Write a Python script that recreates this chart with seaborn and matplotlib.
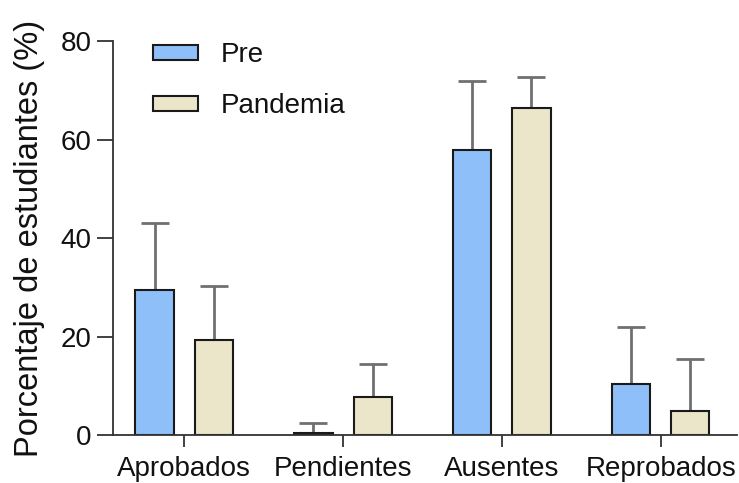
import numpy as np
import pandas as pd
import matplotlib
matplotlib.use('Agg')
import matplotlib.pyplot as plt
import seaborn as sns

# data
categories = ['Aprobados', 'Pendientes', 'Ausentes', 'Reprobados']
periods = ['Pre', 'Pandemia']
pre_mean = [29.4, 0.5, 57.8, 10.3]
pre_sd = [13.6, 2.0, 14.0, 11.7]
pand_mean = [19.4, 7.7, 66.4, 4.9]
pand_sd = [10.9, 6.8, 6.4, 10.6]

colors = {'Pre': '#8FBFF9', 'Pandemia': '#EBE5C9'}

df = pd.DataFrame({
    'categoria': categories * 2,
    'periodo': ['Pre'] * 4 + ['Pandemia'] * 4,
    'valor': pre_mean + pand_mean,
    'sd': pre_sd + pand_sd,
})

sns.set_style('ticks')
plt.rcParams['font.family'] = ['Liberation Sans', 'DejaVu Sans']
plt.rcParams['text.color'] = '#111111'
plt.rcParams['xtick.color'] = '#333333'
plt.rcParams['ytick.color'] = '#333333'
plt.rcParams['xtick.labelcolor'] = '#111111'
plt.rcParams['ytick.labelcolor'] = '#111111'
plt.rcParams['axes.labelcolor'] = '#111111'

fig = plt.figure(figsize=(7.39, 4.83), dpi=100)
ax = fig.add_axes([0.153, 0.099, 0.844, 0.816])

sns.barplot(data=df, x='categoria', y='valor', hue='periodo', order=categories,
            hue_order=periods, palette=colors, saturation=1, width=0.744, gap=0.355,
            edgecolor='#1a1a1a', linewidth=1.5, errorbar=None, ax=ax)

# one-sided error bars (upper only), placed on seaborn's bars
for cont, per in zip(ax.containers, periods):
    sub = df[df['periodo'] == per].set_index('categoria').loc[categories]
    xs = [b.get_x() + b.get_width() / 2 for b in cont]
    ax.errorbar(xs, sub['valor'], yerr=[np.zeros(len(xs)), sub['sd']], fmt='none',
                ecolor='#707070', elinewidth=2, capsize=10, capthick=2, zorder=0)

ax.set_ylim(0, 80)
ax.set_xlim(-0.447, 3.478)
ax.set_yticks([0, 20, 40, 60, 80])
ax.set_xlabel('')
ax.set_ylabel('Porcentaje de estudiantes (%)', fontsize=23.5, labelpad=11)
ax.tick_params(axis='y', labelsize=20, length=11.5, width=1.3, pad=4)
ax.tick_params(axis='x', labelsize=20, length=8.5, width=1.3, pad=6.5)
for s in ['top', 'right']:
    ax.spines[s].set_visible(False)
for s in ['left', 'bottom']:
    ax.spines[s].set_linewidth(1.3)
    ax.spines[s].set_color('#333333')

leg = ax.legend(loc='upper left', bbox_to_anchor=(0.024, 1.06), frameon=False, fontsize=20,
                handlelength=1.62, handleheight=0.5, handletextpad=0.82, labelspacing=0.9)
for h in leg.legend_handles:
    h.set_edgecolor('#1a1a1a')
    h.set_linewidth(1.5)

fig.savefig('out.png', dpi=100)
